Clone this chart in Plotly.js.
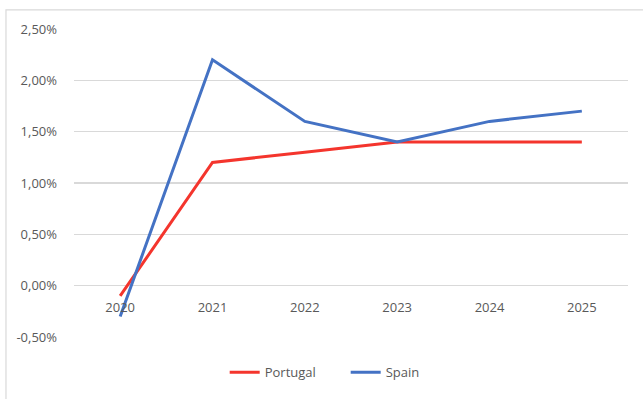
<!DOCTYPE html>
<html>
<head>
<meta charset="utf-8">
<script src="https://cdn.plot.ly/plotly-3.0.1.min.js"></script>
<style>
  html, body { margin: 0; padding: 0; background: #fff; }
  #chart { width: 643px; height: 399px; }
</style>
</head>
<body>
<div id="chart"></div>
<script>
// Annual rates (%), by year
const years = ['2020', '2021', '2022', '2023', '2024', '2025'];
const portugal = [-0.1, 1.2, 1.3, 1.4, 1.4, 1.4];
const spain = [-0.3, 2.2, 1.6, 1.4, 1.6, 1.7];

// Y axis ticks and their labels (comma decimals)
const yTickVals = [-0.5, 0, 0.5, 1, 1.5, 2, 2.5];
const yTickText = ['-0,50%', '0,00%', '0,50%', '1,00%', '1,50%', '2,00%', '2,50%'];

const yMin = -0.5, yMax = 2.5;
const fontFamily = 'Open Sans, Liberation Sans, sans-serif';
const textColor = '#595959';
const fontSize = 13;

const traces = [
  {
    x: years, y: portugal, name: 'Portugal', type: 'scatter', mode: 'lines',
    line: { color: '#f4352d', width: 3 }
  },
  {
    x: years, y: spain, name: 'Spain', type: 'scatter', mode: 'lines',
    line: { color: '#4472c4', width: 3 }
  }
];

const layout = {
  width: 643, height: 399,
  margin: { l: 74, r: 15, t: 29, b: 58 },
  paper_bgcolor: '#ffffff', plot_bgcolor: '#ffffff',
  font: { family: fontFamily, size: fontSize, color: textColor },
  showlegend: true,
  legend: {
    orientation: 'h', x: 0.272, xanchor: 'left', y: -0.115, yanchor: 'middle',
    entrywidth: 76, entrywidthmode: 'pixels', tracegroupgap: 0,
    font: { family: fontFamily, size: fontSize, color: textColor }
  },
  xaxis: {
    type: 'category',
    range: [-0.5, years.length - 0.5],
    anchor: 'free',
    // category labels sit just under the zero line
    position: (0 - yMin) / (yMax - yMin),
    showgrid: false, zeroline: false, showline: false,
    ticks: '', ticklabelstandoff: 12,
    tickfont: { family: fontFamily, size: fontSize, color: textColor },
    fixedrange: true
  },
  yaxis: {
    range: [yMin, yMax],
    tickvals: yTickVals, ticktext: yTickText,
    showgrid: true, gridcolor: '#d9d9d9', gridwidth: 1.3,
    zeroline: false, showline: false, ticks: '',
    ticklabelstandoff: 16,
    tickfont: { family: fontFamily, size: fontSize, color: textColor },
    fixedrange: true
  },
  shapes: [
    {
      // chart frame, running off the right and bottom edges
      type: 'rect', xref: 'paper', yref: 'paper',
      x0: -0.1228, x1: 1.04, y0: -0.22, y1: 1.062,
      line: { color: '#d9d9d9', width: 1.2 }, fillcolor: 'rgba(0,0,0,0)', layer: 'below'
    }
  ]
};

Plotly.newPlot('chart', traces, layout, { displayModeBar: false, staticPlot: true });
</script>
</body>
</html>
